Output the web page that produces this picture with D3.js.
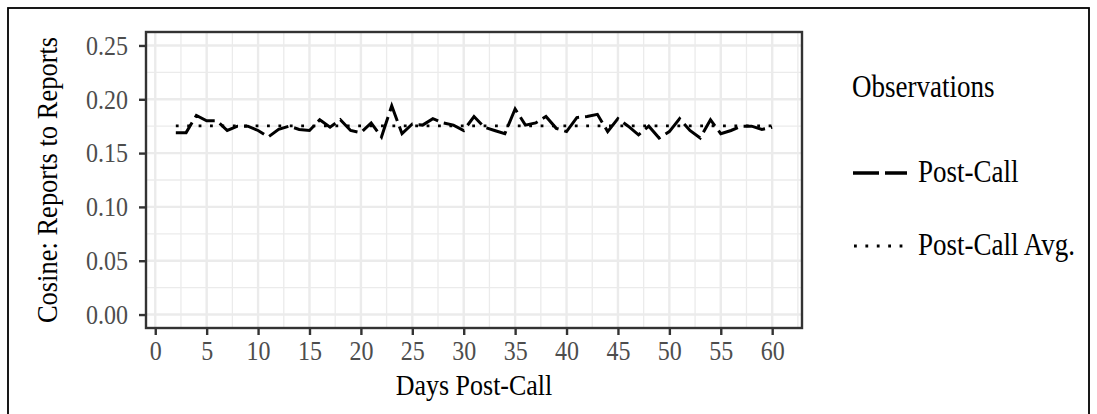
<!DOCTYPE html>
<html>
<head>
<meta charset="utf-8">
<script src="https://cdn.jsdelivr.net/npm/d3@7"></script>
<style>
  html, body { margin: 0; padding: 0; background: #fff; }
  svg { display: block; }
  text { font-family: "Liberation Serif", "Times New Roman", serif; }
</style>
</head>
<body>
<svg id="chart" width="1097" height="414"></svg>
<script>
// ---- data ----
const days = [2,3,4,5,6,7,8,9,10,11,12,13,14,15,16,17,18,19,20,21,22,23,24,25,26,27,28,29,30,31,
              32,33,34,35,36,37,38,39,40,41,42,43,44,45,46,47,48,49,50,51,52,53,54,55,56,57,58,59,60];
const postCall = [0.169,0.169,0.185,0.180,0.180,0.171,0.175,0.175,0.171,0.165,0.172,0.175,0.172,0.171,
                  0.181,0.174,0.181,0.171,0.169,0.178,0.165,0.194,0.168,0.177,0.176,0.182,0.178,0.176,
                  0.171,0.184,0.174,0.171,0.168,0.191,0.176,0.178,0.184,0.173,0.170,0.183,0.184,0.186,
                  0.170,0.182,0.175,0.167,0.175,0.164,0.170,0.182,0.171,0.164,0.181,0.168,0.171,0.175,
                  0.175,0.172,0.174];
const postCallAvg = 0.1752;
const xTicks = [0,5,10,15,20,25,30,35,40,45,50,55,60];
const yTicks = [0.00,0.05,0.10,0.15,0.20,0.25];
const legendTitle = "Observations";
const seriesNames = ["Post-Call", "Post-Call Avg."];
const xTitle = "Days Post-Call";
const yTitle = "Cosine: Reports to Reports";

// ---- layout ----
const svg = d3.select("#chart");
const P = {left: 146, right: 802, top: 32, bottom: 328};
const SY = 1.14; // vertical glyph stretch

// outer frame
svg.append("rect").attr("x", 8).attr("y", 8).attr("width", 1081).attr("height", 420)
  .attr("fill", "none").attr("stroke", "#000").attr("stroke-width", 1.8);

const x = d3.scaleLinear().domain([-0.9, 62.9]).range([P.left, P.right]);
const y = d3.scaleLinear().domain([-0.0125, 0.2625]).range([P.bottom, P.top]);

// grid
const g = svg.append("g");
const xMinor = d3.range(-2.5, 65, 5).filter(v => x(v) > P.left && x(v) < P.right);
const yMinor = d3.range(-0.025, 0.275, 0.05).filter(v => y(v) > P.top && y(v) < P.bottom);
g.selectAll(".xm").data(xMinor).join("line")
  .attr("x1", d => x(d)).attr("x2", d => x(d)).attr("y1", P.top).attr("y2", P.bottom)
  .attr("stroke", "#ebebeb").attr("stroke-width", 1.3);
g.selectAll(".ym").data(yMinor).join("line")
  .attr("y1", d => y(d)).attr("y2", d => y(d)).attr("x1", P.left).attr("x2", P.right)
  .attr("stroke", "#ebebeb").attr("stroke-width", 1.3);
g.selectAll(".xM").data(xTicks).join("line")
  .attr("x1", d => x(d)).attr("x2", d => x(d)).attr("y1", P.top).attr("y2", P.bottom)
  .attr("stroke", "#ebebeb").attr("stroke-width", 2.4);
g.selectAll(".yM").data(yTicks).join("line")
  .attr("y1", d => y(d)).attr("y2", d => y(d)).attr("x1", P.left).attr("x2", P.right)
  .attr("stroke", "#ebebeb").attr("stroke-width", 2.4);

// lines
const lineGen = d3.line().x(d => x(d[0])).y(d => y(d[1]));
svg.append("path")
  .attr("d", lineGen([[days[0], postCallAvg], [days[days.length - 1], postCallAvg]]))
  .attr("fill", "none").attr("stroke", "#000").attr("stroke-width", 2.8)
  .attr("stroke-dasharray", "2.8,8.6");
svg.append("path")
  .attr("d", lineGen(days.map((d, i) => [d, postCall[i]])))
  .attr("fill", "none").attr("stroke", "#000").attr("stroke-width", 3)
  .attr("stroke-dasharray", "22,6").attr("stroke-linejoin", "miter");

// panel border
svg.append("rect").attr("x", P.left).attr("y", P.top)
  .attr("width", P.right - P.left).attr("height", P.bottom - P.top)
  .attr("fill", "none").attr("stroke", "#333").attr("stroke-width", 2.4);

// axes
const xAxis = svg.append("g").attr("transform", `translate(0,${P.bottom})`)
  .call(d3.axisBottom(x).tickValues(xTicks).tickFormat(d3.format("d")).tickSizeOuter(0).tickSizeInner(7).tickPadding(4));
const yAxis = svg.append("g").attr("transform", `translate(${P.left},0)`)
  .call(d3.axisLeft(y).tickValues(yTicks).tickFormat(d3.format(".2f")).tickSizeOuter(0).tickSizeInner(7).tickPadding(11));
[xAxis, yAxis].forEach(a => {
  a.select(".domain").remove();
  a.selectAll(".tick line").attr("stroke", "#333").attr("stroke-width", 2.4);
  a.selectAll(".tick text").attr("fill", "#4d4d4d").style("font-size", "24px")
    .attr("transform", `scale(1,${SY})`);
});

// axis titles
svg.append("text").attr("transform", `translate(${(P.left + P.right) / 2},395) scale(1,${SY})`)
  .attr("text-anchor", "middle").style("font-size", "26px").text(xTitle);
svg.append("text").attr("transform", `translate(57,${(P.top + P.bottom) / 2}) rotate(-90) scale(1,${SY})`)
  .attr("text-anchor", "middle").style("font-size", "26.5px").text(yTitle);

// legend
const L = svg.append("g");
L.append("text").attr("transform", `translate(852,97) scale(1,${SY})`)
  .style("font-size", "27px").text(legendTitle);
const keyY = [173, 246];
L.append("line").attr("x1", 853).attr("x2", 907).attr("y1", keyY[0]).attr("y2", keyY[0])
  .attr("stroke", "#000").attr("stroke-width", 3.4).attr("stroke-dasharray", "26,6");
L.append("line").attr("x1", 854).attr("x2", 907).attr("y1", keyY[1]).attr("y2", keyY[1])
  .attr("stroke", "#000").attr("stroke-width", 2.8).attr("stroke-dasharray", "2.8,8.6");
seriesNames.forEach((n, i) => {
  L.append("text").attr("transform", `translate(918,${keyY[i] + 9}) scale(1,${SY})`)
    .style("font-size", "27px").text(n);
});
</script>
</body>
</html>
